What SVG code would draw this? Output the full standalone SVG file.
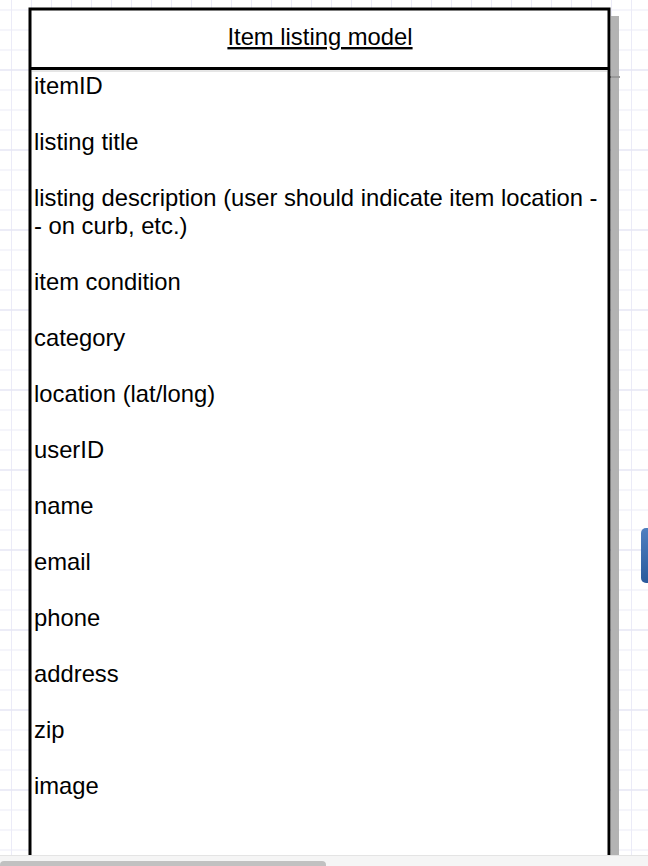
<svg xmlns="http://www.w3.org/2000/svg" width="648" height="866" viewBox="0 0 648 866">
<defs>
<pattern id="grid" width="20" height="20" patternUnits="userSpaceOnUse" x="11" y="9.5">
<path d="M0 0.5H20M0.5 0V20" stroke="#ebebf7" stroke-width="1" fill="none"/>
</pattern>
<pattern id="major" width="80" height="80" patternUnits="userSpaceOnUse" x="11" y="69.5">
<path d="M0 0.5H80" stroke="#e2e2f2" stroke-width="1" fill="none"/>
</pattern>
<linearGradient id="btn" x1="0" y1="0" x2="0" y2="1">
<stop offset="0" stop-color="#4f7fc0"/>
<stop offset="1" stop-color="#2a5a9c"/>
</linearGradient>
</defs>
<style>
.t{font-family:"Liberation Sans",Arial,sans-serif;font-size:23.8px;fill:#000}
</style>
<rect width="648" height="866" fill="#fff"/>
<rect width="648" height="866" fill="url(#grid)"/>
<rect width="648" height="866" fill="url(#major)"/>
<g id="listing-model">
<rect x="611" y="16" width="8" height="839" fill="#b3b3b3"/>
<rect x="600" y="76" width="20" height="2" fill="#999"/>
<rect x="30" y="9" width="579" height="850" fill="#fff" stroke="#000" stroke-width="3"/>
<line x1="30" y1="68.5" x2="609" y2="68.5" stroke="#000" stroke-width="3"/>
<line x1="32" y1="71" x2="607" y2="71" stroke="#ccc" stroke-width="1"/>
<text class="t" x="320" y="45" text-anchor="middle" text-decoration="underline">Item listing model</text>
<text class="t" x="34" y="94">itemID</text>
<text class="t" x="34" y="150">listing title</text>
<text class="t" x="34" y="206">listing description (user should indicate item location -</text>
<text class="t" x="34" y="234">- on curb, etc.)</text>
<text class="t" x="34" y="290">item condition</text>
<text class="t" x="34" y="346">category</text>
<text class="t" x="34" y="402">location (lat/long)</text>
<text class="t" x="34" y="458">userID</text>
<text class="t" x="34" y="514">name</text>
<text class="t" x="34" y="570">email</text>
<text class="t" x="34" y="626">phone</text>
<text class="t" x="34" y="682">address</text>
<text class="t" x="34" y="738">zip</text>
<text class="t" x="34" y="794">image</text>
</g>
<rect id="side-button" x="641" y="528" width="14" height="55" rx="5" fill="url(#btn)"/>
<g id="scrollbar">
<rect x="0" y="855" width="648" height="11" fill="#f5f5f5"/>
<line x1="0" y1="855.5" x2="648" y2="855.5" stroke="#e4e4e4"/>
<rect x="0" y="861" width="326" height="10" rx="4" fill="#c1c1c1"/>
</g>
</svg>
